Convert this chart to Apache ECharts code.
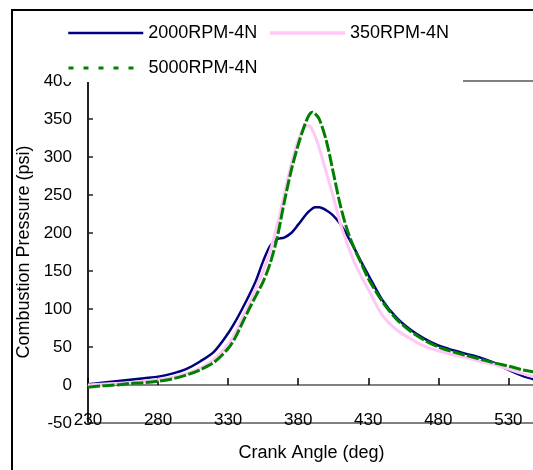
<!DOCTYPE html>
<html>
<head>
<meta charset="utf-8">
<script src="https://cdn.jsdelivr.net/npm/echarts@6/dist/echarts.min.js"></script>
<style>
html,body{margin:0;padding:0;background:#fff;}
#chart{width:533px;height:470px;}
</style>
</head>
<body>
<div id="chart"></div>
<script>
// Crank angle (deg)
var angles = [230,240,250,260,270,280,290,300,310,320,330,335,340,345,350,355,360,365,370,375,380,385,388,390,392,395,400,405,410,415,420,425,430,440,450,460,470,480,490,500,510,520,530,540,549];
// Combustion pressure (psi)
var rpm2000 = [1,3,5,7,9,11,15,21,31,44,68,83,100,118,138,163,183,192,194,200,211,223,229,232,234,234,230,223,212,197,180,162,145,112,89,73,61,52,46,41,36,29,20,12,7];
var rpm350  = [0,1,2,3,5,7,10,15,22,34,53,68,88,107,128,150,176,210,250,290,322,340,341,336,328,312,280,248,213,186,162,143,126,92,73,61,51,45,40,36,31,27,21,15,10];
var rpm5000 = [-3,-1,0,2,3,5,8,13,20,30,48,62,81,100,118,136,160,194,240,282,316,344,356,359,357,350,322,280,237,204,180,160,140,110,87,71,59,50,44,39,34,29,25,20,17];
var seriesNames = ['2000RPM-4N','350RPM-4N','5000RPM-4N'];
var xTicks = [230,280,330,380,430,480,530];

function pairs(vals){ return angles.map(function(a,i){ return [a, vals[i]]; }); }

var FONT = "'Liberation Sans', Arial, sans-serif";
var legendBase = {
  padding:0, itemWidth:75, itemHeight:18, itemGap:11,
  itemStyle:{opacity:0},
  textStyle:{fontSize:18, color:'#000', fontFamily:FONT}
};
var chart = echarts.init(document.getElementById('chart'), null, {renderer:'canvas'});
chart.setOption({
  animation:false,
  backgroundColor:'#fff',
  textStyle:{fontFamily:FONT, color:'#000'},
  graphic:[
    {type:'rect', z:3, silent:true, shape:{x:62, y:13, width:401, height:69}, style:{fill:'#fff', stroke:'none'}},
    {type:'rect', z:100, silent:true, shape:{x:12, y:10, width:1000, height:1000}, style:{fill:'none', stroke:'#000', lineWidth:2}}
  ],
  legend:[
    Object.assign({}, legendBase, {left:67, top:24, data:[
      {name:seriesNames[0], lineStyle:{width:2.5}},
      {name:seriesNames[1], lineStyle:{width:3.5}}]}),
    Object.assign({}, legendBase, {left:67, top:59, data:[
      {name:seriesNames[2], lineStyle:{width:3, type:[5,10]}}]})
  ],
  grid:{left:88, right:-2, top:81, bottom:47, show:true, borderColor:'#808080', borderWidth:2, outerBoundsMode:'none', containLabel:false},
  xAxis:[
    {type:'value', min:230, max:549, interval:50,
     axisLine:{onZero:true, lineStyle:{color:'#808080', width:2}},
     axisTick:{show:true, inside:true, length:7, lineStyle:{color:'#000', width:1.5}},
     axisLabel:{show:false}, splitLine:{show:false}},
    {type:'value', min:230, max:549, interval:50, position:'bottom',
     axisLine:{onZero:false, lineStyle:{color:'#808080', width:2}},
     axisTick:{show:false},
     axisLabel:{margin:-11, fontSize:17, color:'#000', fontFamily:FONT,
       formatter:function(v){ return xTicks.indexOf(v) >= 0 ? String(v) : ''; }},
     splitLine:{show:false},
     name:'Crank Angle (deg)', nameLocation:'middle', nameGap:21,
     nameTextStyle:{fontSize:18, color:'#000', fontFamily:FONT}}
  ],
  yAxis:{type:'value', min:-50, max:400, interval:50,
    axisLine:{show:true, onZero:false, lineStyle:{color:'#222', width:2}},
    axisTick:{show:true, inside:true, length:5, lineStyle:{color:'#222', width:1.5}},
    axisLabel:{margin:16, fontSize:17, color:'#000', fontFamily:FONT},
    splitLine:{show:false},
    name:'Combustion Pressure (psi)', nameLocation:'middle', nameGap:54,
    nameTextStyle:{fontSize:18, color:'#000', fontFamily:FONT}},
  series:[
    {name:seriesNames[0], type:'line', xAxisIndex:0, data:pairs(rpm2000), symbol:'none', smooth:0.3,
     lineStyle:{color:'#000080', width:2.5}, itemStyle:{color:'#000080'}},
    {name:seriesNames[1], type:'line', xAxisIndex:0, data:pairs(rpm350), symbol:'none', smooth:0.3,
     lineStyle:{color:'#FFC8F5', width:3}, itemStyle:{color:'#FFC8F5'}},
    {name:seriesNames[2], type:'line', xAxisIndex:0, data:pairs(rpm5000), symbol:'none', smooth:0.3,
     lineStyle:{color:'#008000', width:3, type:[12,2.5]}, itemStyle:{color:'#008000'}}
  ]
});
</script>
</body>
</html>
